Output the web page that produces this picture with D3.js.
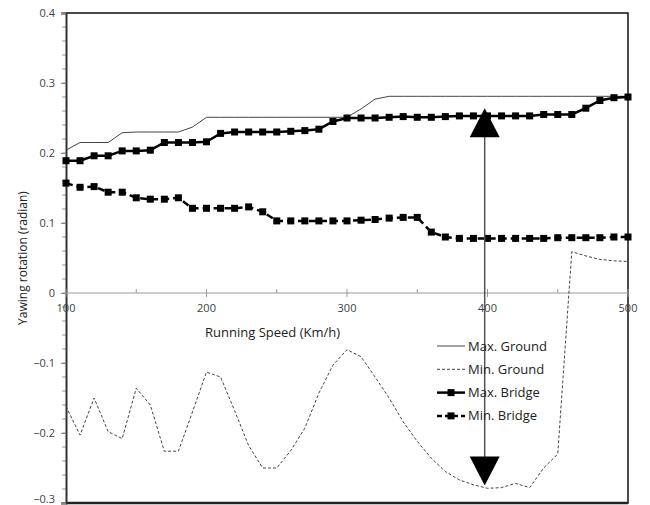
<!DOCTYPE html>
<html>
<head>
<meta charset="utf-8">
<script src="https://cdn.jsdelivr.net/npm/d3@7"></script>
<style>
  body { margin: 0; background: #fff; }
  text { font-family: "Open Sans", sans-serif; }
</style>
</head>
<body>
<div id="chart"></div>
<script>
// running speed (km/h)
var speeds = [100, 110, 120, 130, 140, 150, 160, 170, 180, 190,
              200, 210, 220, 230, 240, 250, 260, 270, 280, 290,
              300, 310, 320, 330, 340, 350, 360, 370, 380, 390,
              400, 410, 420, 430, 440, 450, 460, 470, 480, 490, 500];

var maxGround = [0.204, 0.215, 0.215, 0.215, 0.229, 0.230, 0.230, 0.230, 0.230, 0.237,
                 0.251, 0.251, 0.251, 0.251, 0.251, 0.251, 0.251, 0.251, 0.251, 0.251,
                 0.251, 0.263, 0.277, 0.281, 0.281, 0.281, 0.281, 0.281, 0.281, 0.281,
                 0.281, 0.281, 0.281, 0.281, 0.281, 0.281, 0.281, 0.281, 0.281, 0.281, 0.281];

var minGround = [-0.162, -0.203, -0.150, -0.198, -0.208, -0.136, -0.160, -0.226, -0.226, -0.170,
                 -0.113, -0.120, -0.168, -0.218, -0.250, -0.250, -0.225, -0.193, -0.143, -0.103,
                 -0.081, -0.091, -0.120, -0.150, -0.184, -0.212, -0.236, -0.255, -0.267, -0.274,
                 -0.279, -0.278, -0.272, -0.278, -0.250, -0.230, 0.059, 0.053, 0.048, 0.046, 0.045];

var maxBridge = [0.189, 0.189, 0.196, 0.196, 0.203, 0.203, 0.204, 0.215, 0.215, 0.215,
                 0.216, 0.228, 0.230, 0.230, 0.230, 0.230, 0.231, 0.232, 0.234, 0.245,
                 0.250, 0.250, 0.250, 0.251, 0.252, 0.251, 0.251, 0.252, 0.253, 0.253,
                 0.253, 0.253, 0.253, 0.253, 0.255, 0.255, 0.255, 0.264, 0.275, 0.279, 0.280];

var minBridge = [0.157, 0.151, 0.152, 0.144, 0.144, 0.136, 0.134, 0.134, 0.136, 0.121,
                 0.121, 0.121, 0.121, 0.123, 0.116, 0.103, 0.103, 0.103, 0.103, 0.103,
                 0.103, 0.104, 0.105, 0.107, 0.108, 0.108, 0.087, 0.080, 0.078, 0.078,
                 0.078, 0.078, 0.078, 0.078, 0.078, 0.079, 0.079, 0.079, 0.079, 0.080, 0.080];

var seriesNames = ["Max. Ground", "Min. Ground", "Max. Bridge", "Min. Bridge"];
var xTicks = [100, 200, 300, 400, 500];
var xMinorTicks = [150, 250, 350, 450];
var yTicks = [0.4, 0.3, 0.2, 0.1, 0, -0.1, -0.2, -0.3];
// the arrow marking the range at 400 km/h
var arrowSpeed = 398;
var arrowRange = [0.264, -0.275];

var width = 650, height = 505;
var svg = d3.select("#chart").append("svg")
    .attr("width", width)
    .attr("height", height);

var x = d3.scaleLinear().domain([100, 500]).range([66, 628]);
var y = d3.scaleLinear().domain([-0.3, 0.4]).range([503, 13]);

// plot frame (top / right / bottom)
svg.append("path")
    .attr("d", "M" + x(100) + "," + y(0.4) + "H" + x(500) + "V" + y(-0.3) + "H" + x(100))
    .attr("fill", "none")
    .attr("stroke", "#111")
    .attr("stroke-width", 1.5);
svg.append("line")
    .attr("x1", x(100)).attr("x2", x(500))
    .attr("y1", y(-0.3)).attr("y2", y(-0.3))
    .attr("stroke", "#222").attr("stroke-width", 2.5);

// y axis with minor ticks every 0.02
var yMinor = d3.range(-30, 41, 2).map(function (d) { return d / 100; });
svg.append("g")
    .selectAll("line")
    .data(yMinor)
    .enter()
    .append("line")
    .attr("x1", x(100) - 4).attr("x2", x(100))
    .attr("y1", function (d) { return y(d); })
    .attr("y2", function (d) { return y(d); })
    .attr("stroke", "#999")
    .attr("stroke-width", 1);

var yAxis = d3.axisLeft(y)
    .tickValues(yTicks)
    .tickSize(5)
    .tickPadding(6)
    .tickFormat(function (d) { return d === 0 ? "0" : d3.format(".1f")(d); });
var gy = svg.append("g")
    .attr("transform", "translate(" + x(100) + ",0)")
    .call(yAxis);
gy.select(".domain").attr("stroke", "#333").attr("stroke-width", 2);
gy.selectAll(".tick line").attr("stroke", "#888");
gy.selectAll("text")
    .attr("fill", "#404040")
    .style("font-size", "11px");
// lowest label sits on the page edge; lift it just enough to stay readable
gy.selectAll(".tick text")
    .filter(function (d) { return d === -0.3; })
    .attr("dy", "-0.05em");

// x axis at y = 0
var gx = svg.append("g")
    .attr("transform", "translate(0," + y(0) + ")");
gx.append("line")
    .attr("x1", x(100)).attr("x2", x(500))
    .attr("stroke", "#999").attr("stroke-width", 1.2);
gx.selectAll("line.major")
    .data(xTicks)
    .enter()
    .append("line")
    .attr("class", "major")
    .attr("x1", function (d) { return x(d); })
    .attr("x2", function (d) { return x(d); })
    .attr("y1", -4).attr("y2", 4)
    .attr("stroke", "#999");
gx.selectAll("line.minor")
    .data(xMinorTicks)
    .enter()
    .append("line")
    .attr("class", "minor")
    .attr("x1", function (d) { return x(d); })
    .attr("x2", function (d) { return x(d); })
    .attr("y1", -4).attr("y2", 0)
    .attr("stroke", "#999");
gx.selectAll("text")
    .data(xTicks)
    .enter()
    .append("text")
    .attr("x", function (d) { return x(d); })
    .attr("y", 19)
    .attr("text-anchor", "middle")
    .attr("fill", "#404040")
    .style("font-size", "11px")
    .text(function (d) { return d; });

// axis titles
svg.append("text")
    .attr("x", 205)
    .attr("y", 337)
    .attr("fill", "#222")
    .style("font-size", "13px")
    .text("Running Speed (Km/h)");
svg.append("text")
    .attr("transform", "translate(27,258) rotate(-90)")
    .attr("text-anchor", "middle")
    .attr("fill", "#222")
    .style("font-size", "12px")
    .text("Yawing rotation (radian)");

// series
var line = d3.line()
    .x(function (d, i) { return x(speeds[i]); })
    .y(function (d) { return y(d); });

var styles = [
    { data: maxGround, width: 1, dash: null, color: "#444", marker: false },
    { data: minGround, width: 1, dash: "3,2", color: "#444", marker: false },
    { data: maxBridge, width: 2.5, dash: null, color: "#000", marker: true },
    { data: minBridge, width: 2.5, dash: "7,4", color: "#000", marker: true }
];

styles.forEach(function (s) {
    svg.append("path")
        .datum(s.data)
        .attr("d", line)
        .attr("fill", "none")
        .attr("stroke", s.color)
        .attr("stroke-width", s.width)
        .attr("stroke-dasharray", s.dash);
    if (s.marker) {
        svg.append("g")
            .selectAll("rect")
            .data(s.data)
            .enter()
            .append("rect")
            .attr("x", function (d, i) { return x(speeds[i]) - 3.5; })
            .attr("y", function (d) { return y(d) - 3.5; })
            .attr("width", 7)
            .attr("height", 7)
            .attr("fill", "#000");
    }
});

// double-headed arrow
var ax = x(arrowSpeed);
var yTop = y(arrowRange[0]), yBot = y(arrowRange[1]);
svg.append("line")
    .attr("x1", ax).attr("x2", ax)
    .attr("y1", yTop + 20).attr("y2", yBot - 20)
    .attr("stroke", "#555").attr("stroke-width", 1.5);
svg.append("path")
    .attr("d", "M" + ax + "," + yTop + "L" + (ax - 15) + "," + (yTop + 29) + "L" + (ax + 15) + "," + (yTop + 29) + "Z")
    .attr("fill", "#000");
svg.append("path")
    .attr("d", "M" + ax + "," + yBot + "L" + (ax - 15) + "," + (yBot - 29) + "L" + (ax + 15) + "," + (yBot - 29) + "Z")
    .attr("fill", "#000");

// legend
var legend = svg.append("g").attr("transform", "translate(437,346)");
styles.forEach(function (s, i) {
    var row = legend.append("g").attr("transform", "translate(0," + (i * 23.3) + ")");
    row.append("line")
        .attr("x1", 0).attr("x2", 28)
        .attr("stroke", s.color)
        .attr("stroke-width", s.width)
        .attr("stroke-dasharray", s.dash === "7,4" ? "5,3" : s.dash);
    if (s.marker) {
        row.append("rect")
            .attr("x", 10.5).attr("y", -3.5)
            .attr("width", 7).attr("height", 7)
            .attr("fill", "#000");
    }
    row.append("text")
        .attr("x", 31)
        .attr("y", 0)
        .attr("dy", "0.35em")
        .attr("fill", "#222")
        .style("font-size", "13px")
        .text(seriesNames[i]);
});
</script>
</body>
</html>
